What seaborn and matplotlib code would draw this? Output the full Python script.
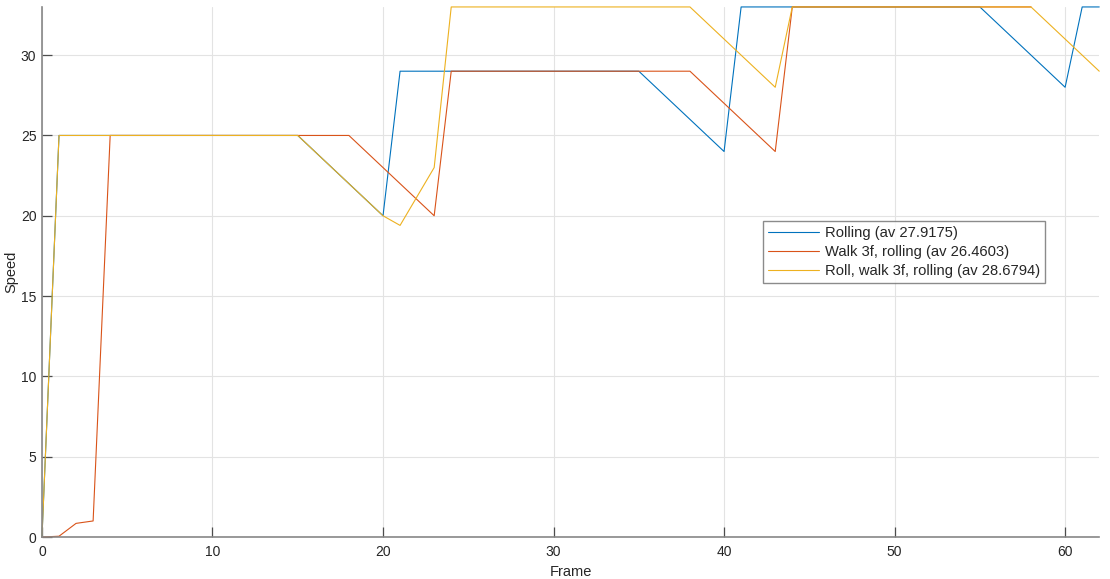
import pandas as pd
import seaborn as sns
from matplotlib import pyplot as plt

frames = list(range(63))

rolling = [0, 25, 25, 25, 25, 25, 25, 25, 25, 25, 25, 25, 25, 25, 25, 25,
           24, 23, 22, 21, 20,
           29, 29, 29, 29, 29, 29, 29, 29, 29, 29, 29, 29, 29, 29, 29,
           28, 27, 26, 25, 24,
           33, 33, 33, 33, 33, 33, 33, 33, 33, 33, 33, 33, 33, 33, 33,
           32, 31, 30, 29, 28,
           33, 33]

# this run stops earlier (frame 58), hidden under the yellow line at the top
walk = [0, 0.05, 0.85, 1.0,
        25, 25, 25, 25, 25, 25, 25, 25, 25, 25, 25, 25, 25, 25, 25,
        24, 23, 22, 21, 20,
        29, 29, 29, 29, 29, 29, 29, 29, 29, 29, 29, 29, 29, 29, 29,
        28, 27, 26, 25, 24,
        33, 33, 33, 33, 33, 33, 33, 33, 33, 33, 33, 33, 33, 33, 33]

roll_walk = [0, 25, 25, 25, 25, 25, 25, 25, 25, 25, 25, 25, 25, 25, 25, 25,
             24, 23, 22, 21, 20, 19.4, 21.2, 23,
             33, 33, 33, 33, 33, 33, 33, 33, 33, 33, 33, 33, 33, 33, 33,
             32, 31, 30, 29, 28,
             33, 33, 33, 33, 33, 33, 33, 33, 33, 33, 33, 33, 33, 33, 33,
             32, 31, 30, 29]

labels = ['Rolling (av 27.9175)', 'Walk 3f, rolling (av 26.4603)', 'Roll, walk 3f, rolling (av 28.6794)']
colors = ['#0072BD', '#D95319', '#EDB120']

df = pd.concat([
    pd.DataFrame({'Frame': frames[:len(rolling)], 'Speed': rolling, 'run': labels[0]}),
    pd.DataFrame({'Frame': frames[:len(walk)], 'Speed': walk, 'run': labels[1]}),
    pd.DataFrame({'Frame': frames[:len(roll_walk)], 'Speed': roll_walk, 'run': labels[2]}),
])

sns.set_style('white')
plt.rcParams['font.family'] = ['Liberation Sans', 'DejaVu Sans']

fig = plt.figure(figsize=(11.1, 5.79), dpi=100)
ax = fig.add_axes([0.0378, 0.0725, 0.9525, 0.9155])

sns.lineplot(data=df, x='Frame', y='Speed', hue='run', palette=colors,
             linewidth=0.8, ax=ax)
for line in ax.get_lines():
    line.set_clip_on(False)

ax.set_xlim(0, 62)
ax.set_ylim(0, 33)
ax.set_xticks([0, 10, 20, 30, 40, 50, 60])
ax.set_yticks([0, 5, 10, 15, 20, 25, 30])
ax.grid(True, color='#e3e3e3', linewidth=0.8)
ax.set_axisbelow(True)
for s in ['top', 'right']:
    ax.spines[s].set_visible(False)
for s in ['left', 'bottom']:
    ax.spines[s].set_color('#878787')
    ax.spines[s].set_linewidth(1.2)
ax.tick_params(left=True, bottom=True, direction='in', length=7.5, width=0.9,
               color='#4d4d4d', labelcolor='#262626', labelsize=10, pad=4)
ax.tick_params(axis='x', pad=6)
ax.set_xlabel('Frame', fontsize=10.5, color='#262626', labelpad=4)
ax.set_ylabel('Speed', fontsize=10.5, color='#262626', labelpad=2)

leg = ax.legend(loc='upper left', bbox_to_anchor=(0.6823, 0.597), fontsize=10.6,
                frameon=True, fancybox=False, borderpad=0.35, labelspacing=0.35,
                handlelength=3.4, handletextpad=0.45, borderaxespad=0)
leg.get_frame().set_edgecolor('#6e6e6e')
leg.get_frame().set_linewidth(1.0)
for line in leg.get_lines():
    line.set_linewidth(0.8)

fig.savefig('out.png', dpi=100)
